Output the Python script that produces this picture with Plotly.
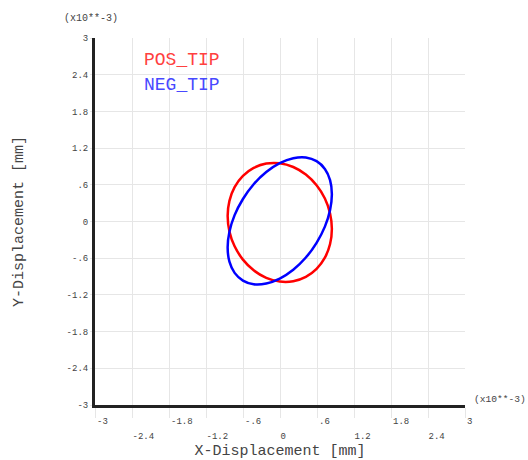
import plotly.graph_objects as go

# Curve data (x10**-3 mm)
pos_x = [0.841, 0.812, 0.728, 0.593, 0.419, 0.215, -0.004, -0.223, -0.427, -0.601, -0.736, -0.820,
         -0.849, -0.820, -0.736, -0.601, -0.427, -0.223, -0.004, 0.215, 0.419, 0.593, 0.728, 0.812, 0.841]
pos_y = [-0.122, 0.132, 0.376, 0.593, 0.768, 0.891, 0.952, 0.947, 0.876, 0.745, 0.562, 0.338,
         0.092, -0.162, -0.406, -0.623, -0.798, -0.921, -0.982, -0.977, -0.906, -0.775, -0.592, -0.368, -0.122]

neg_x = [0.841, 0.812, 0.728, 0.593, 0.419, 0.215, -0.004, -0.223, -0.427, -0.601, -0.736, -0.820,
         -0.849, -0.820, -0.736, -0.601, -0.427, -0.223, -0.004, 0.215, 0.419, 0.593, 0.728, 0.812, 0.841]
neg_y = [0.447, 0.676, 0.860, 0.986, 1.047, 1.035, 0.954, 0.809, 0.609, 0.368, 0.104, -0.168,
         -0.427, -0.656, -0.840, -0.966, -1.027, -1.015, -0.934, -0.789, -0.589, -0.348, -0.084, 0.188, 0.447]

tick_vals = [-3, -2.4, -1.8, -1.2, -0.6, 0, 0.6, 1.2, 1.8, 2.4, 3]
tick_text = ["-3", "-2.4", "-1.8", "-1.2", "-.6", "0", ".6", "1.2", "1.8", "2.4", "3"]
x_upper_text = [t if i % 2 == 0 else "" for i, t in enumerate(tick_text)]
x_lower_vals = [v for i, v in enumerate(tick_vals) if i % 2 == 1]
x_lower_text = [t for i, t in enumerate(tick_text) if i % 2 == 1]

series_names = ["POS_TIP", "NEG_TIP"]

FONT = "Liberation Mono, Courier New, monospace"
TICKFONT = dict(family=FONT, size=9, color="#444444")
GRID = "#e6e6e6"

fig = go.Figure()
fig.add_trace(go.Scatter(x=pos_x, y=pos_y, mode="lines", name=series_names[0],
                         line=dict(color="#ff0000", width=2.5, shape="spline", smoothing=1.0)))
fig.add_trace(go.Scatter(x=neg_x, y=neg_y, mode="lines", name=series_names[1],
                         line=dict(color="#0000ff", width=2.5, shape="spline", smoothing=1.0)))
# empty helper trace so the second (lower-row label) x axis is drawn
fig.add_trace(go.Scatter(x=[None], y=[None], xaxis="x2", yaxis="y", mode="lines",
                         showlegend=False, hoverinfo="skip"))

fig.update_layout(
    width=528, height=460,
    margin=dict(l=95, r=63, t=38, b=55, autoexpand=False),
    paper_bgcolor="white", plot_bgcolor="white",
    showlegend=False, hovermode=False,
    xaxis=dict(
        range=[-3, 3], tickvals=tick_vals, ticktext=x_upper_text, ticklabelposition="outside right",
        showgrid=True, gridcolor=GRID, gridwidth=1, zeroline=False,
        showline=True, linecolor="#222222", linewidth=3,
        ticks="outside", ticklen=10, tickcolor=GRID, tickwidth=1, tickfont=TICKFONT,
        ticklabelstandoff=5, fixedrange=True,
        title=dict(text="X-Displacement [mm]", font=dict(family=FONT, size=15, color="#444444"),
                   standoff=21),
    ),
    xaxis2=dict(
        range=[-3, 3], overlaying="x", anchor="y", side="bottom",
        tickvals=x_lower_vals, ticktext=x_lower_text, ticklabelposition="outside right",
        showgrid=False, zeroline=False, showline=False,
        ticks="outside", ticklen=10, tickcolor="rgba(0,0,0,0)", tickfont=TICKFONT,
        ticklabelstandoff=22, fixedrange=True,
    ),
    yaxis=dict(
        range=[-3, 3], tickvals=tick_vals, ticktext=tick_text,
        showgrid=True, gridcolor=GRID, gridwidth=1, zeroline=False,
        showline=True, linecolor="#222222", linewidth=3,
        ticks="outside", ticklen=2, tickcolor=GRID, tickwidth=1, tickfont=TICKFONT,
        fixedrange=True,
        title=dict(text="Y-Displacement [mm]", font=dict(family=FONT, size=15, color="#444444"),
                   standoff=40),
    ),
    annotations=[
        dict(text=series_names[0], x=0.126, y=0.94, xref="paper", yref="paper", xanchor="left",
             yanchor="middle", showarrow=False, font=dict(family=FONT, size=18, color="#ff4040")),
        dict(text=series_names[1], x=0.126, y=0.872, xref="paper", yref="paper", xanchor="left",
             yanchor="middle", showarrow=False, font=dict(family=FONT, size=18, color="#4848ff")),
        dict(text="(x10**-3)", x=-0.012, y=1.052, xref="paper", yref="paper", xanchor="center",
             yanchor="middle", showarrow=False, font=dict(family=FONT, size=10, color="#444444")),
        dict(text="(x10**-3)", x=1.02, y=0.016, xref="paper", yref="paper", xanchor="left",
             yanchor="middle", showarrow=False, font=dict(family=FONT, size=9.6, color="#444444")),
    ],
)

fig.write_html("out.html", config={"displayModeBar": False},
               post_script="document.body.style.margin='0px';")
